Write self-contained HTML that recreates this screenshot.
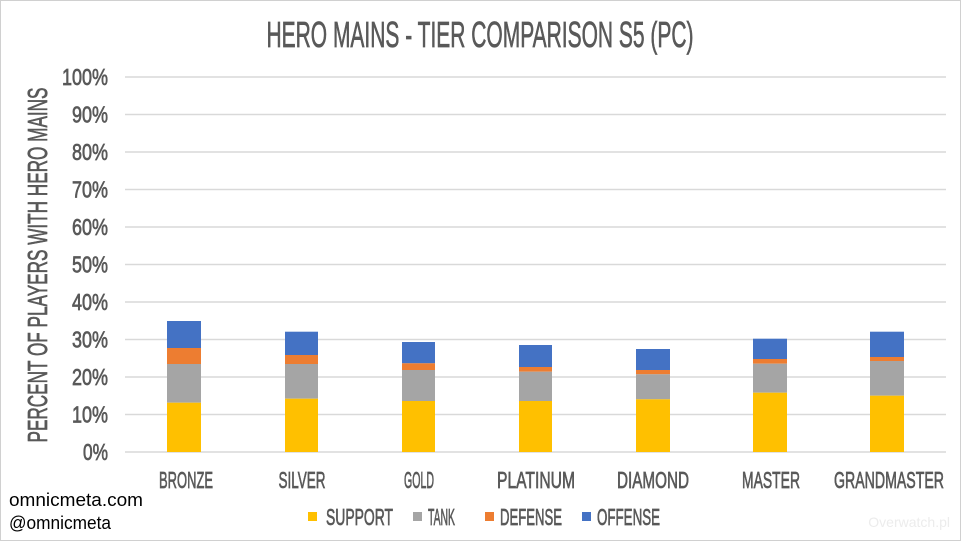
<!DOCTYPE html>
<html><head><meta charset="utf-8"><style>
html,body{margin:0;padding:0;background:#fff;}
svg{display:block;}
text{font-family:"Liberation Sans Narrow","Liberation Sans",sans-serif;fill:#595959;}
.b{stroke:#595959;stroke-width:0.7;}
</style></head><body>
<svg width="961" height="541" viewBox="0 0 961 541" xmlns="http://www.w3.org/2000/svg">
<rect x="0.5" y="0.5" width="960" height="540" fill="#fff" stroke="#d0d0d0"/>
<text class="b" x="480" y="47" font-size="36" text-anchor="middle" textLength="427" lengthAdjust="spacingAndGlyphs">HERO MAINS - TIER COMPARISON S5 (PC)</text>
<g stroke="#d9d9d9" stroke-width="1.5">
<line x1="125" x2="946" y1="77" y2="77"/><line x1="125" x2="946" y1="114.5" y2="114.5"/>
<line x1="125" x2="946" y1="152" y2="152"/><line x1="125" x2="946" y1="189.5" y2="189.5"/>
<line x1="125" x2="946" y1="227" y2="227"/><line x1="125" x2="946" y1="264.5" y2="264.5"/>
<line x1="125" x2="946" y1="302" y2="302"/><line x1="125" x2="946" y1="339.5" y2="339.5"/>
<line x1="125" x2="946" y1="377" y2="377"/><line x1="125" x2="946" y1="414.5" y2="414.5"/>
<line x1="125" x2="946" y1="452" y2="452"/>
</g>
<g font-size="23" text-anchor="end" class="b" lengthAdjust="spacingAndGlyphs">
<text x="108" y="85" textLength="46" lengthAdjust="spacingAndGlyphs">100%</text>
<text x="108" y="122.5" textLength="36" lengthAdjust="spacingAndGlyphs">90%</text>
<text x="108" y="160" textLength="36" lengthAdjust="spacingAndGlyphs">80%</text>
<text x="108" y="197.5" textLength="36" lengthAdjust="spacingAndGlyphs">70%</text>
<text x="108" y="235" textLength="36" lengthAdjust="spacingAndGlyphs">60%</text>
<text x="108" y="272.5" textLength="36" lengthAdjust="spacingAndGlyphs">50%</text>
<text x="108" y="310" textLength="36" lengthAdjust="spacingAndGlyphs">40%</text>
<text x="108" y="347.5" textLength="36" lengthAdjust="spacingAndGlyphs">30%</text>
<text x="108" y="385" textLength="36" lengthAdjust="spacingAndGlyphs">20%</text>
<text x="108" y="422.5" textLength="36" lengthAdjust="spacingAndGlyphs">10%</text>
<text x="108" y="460" textLength="25" lengthAdjust="spacingAndGlyphs">0%</text>
</g>
<text class="b" transform="translate(47,265) rotate(-90)" font-size="28" text-anchor="middle" textLength="355" lengthAdjust="spacingAndGlyphs">PERCENT OF PLAYERS WITH HERO MAINS</text>
<g>
<rect x="167" y="321" width="34" height="27" fill="#4472c4"/><rect x="167" y="348" width="34" height="16" fill="#ed7d31"/><rect x="167" y="364" width="34" height="38.7" fill="#a5a5a5"/><rect x="167" y="402.7" width="34" height="49.3" fill="#ffc000"/>
<rect x="285" y="331.7" width="33" height="23.3" fill="#4472c4"/><rect x="285" y="355" width="33" height="9" fill="#ed7d31"/><rect x="285" y="364" width="33" height="34.7" fill="#a5a5a5"/><rect x="285" y="398.7" width="33" height="53.3" fill="#ffc000"/>
<rect x="402" y="342" width="33" height="21.3" fill="#4472c4"/><rect x="402" y="363.3" width="33" height="6.7" fill="#ed7d31"/><rect x="402" y="370" width="33" height="31" fill="#a5a5a5"/><rect x="402" y="401" width="33" height="51" fill="#ffc000"/>
<rect x="519" y="345" width="33" height="22" fill="#4472c4"/><rect x="519" y="367" width="33" height="4.7" fill="#ed7d31"/><rect x="519" y="371.7" width="33" height="29.3" fill="#a5a5a5"/><rect x="519" y="401" width="33" height="51" fill="#ffc000"/>
<rect x="636" y="349" width="34" height="21" fill="#4472c4"/><rect x="636" y="370" width="34" height="4.3" fill="#ed7d31"/><rect x="636" y="374.3" width="34" height="25" fill="#a5a5a5"/><rect x="636" y="399.3" width="34" height="52.7" fill="#ffc000"/>
<rect x="753" y="338.7" width="34" height="20.3" fill="#4472c4"/><rect x="753" y="359" width="34" height="4.7" fill="#ed7d31"/><rect x="753" y="363.7" width="34" height="29" fill="#a5a5a5"/><rect x="753" y="392.7" width="34" height="59.3" fill="#ffc000"/>
<rect x="870" y="331.7" width="34" height="25.3" fill="#4472c4"/><rect x="870" y="357" width="34" height="4" fill="#ed7d31"/><rect x="870" y="361" width="34" height="34.7" fill="#a5a5a5"/><rect x="870" y="395.7" width="34" height="56.3" fill="#ffc000"/>
</g>
<g font-size="23" text-anchor="middle" class="b">
<text x="186" y="488" textLength="54" lengthAdjust="spacingAndGlyphs">BRONZE</text>
<text x="302" y="488" textLength="47" lengthAdjust="spacingAndGlyphs">SILVER</text>
<text x="419" y="488" textLength="30" lengthAdjust="spacingAndGlyphs">GOLD</text>
<text x="536" y="488" textLength="78" lengthAdjust="spacingAndGlyphs">PLATINUM</text>
<text x="653" y="488" textLength="72" lengthAdjust="spacingAndGlyphs">DIAMOND</text>
<text x="771" y="488" textLength="58" lengthAdjust="spacingAndGlyphs">MASTER</text>
<text x="889" y="488" textLength="110" lengthAdjust="spacingAndGlyphs">GRANDMASTER</text>
</g>
<g font-size="23" class="b">
<rect x="308" y="512" width="9" height="9" fill="#ffc000" stroke="none"/><text x="326" y="525" textLength="67" lengthAdjust="spacingAndGlyphs">SUPPORT</text>
<rect x="413" y="512" width="9" height="9" fill="#a5a5a5" stroke="none"/><text x="428" y="525" textLength="27" lengthAdjust="spacingAndGlyphs">TANK</text>
<rect x="485" y="512" width="9" height="9" fill="#ed7d31" stroke="none"/><text x="500" y="525" textLength="62" lengthAdjust="spacingAndGlyphs">DEFENSE</text>
<rect x="582" y="512" width="9" height="9" fill="#4472c4" stroke="none"/><text x="597" y="525" textLength="63" lengthAdjust="spacingAndGlyphs">OFFENSE</text>
</g>
<text x="9" y="506" font-size="18" textLength="134" lengthAdjust="spacingAndGlyphs" style="fill:#000;font-family:'Liberation Sans',sans-serif">omnicmeta.com</text>
<text x="9" y="529" font-size="18" textLength="102" lengthAdjust="spacingAndGlyphs" style="fill:#000;font-family:'Liberation Sans',sans-serif">@omnicmeta</text>
<text x="950" y="527" font-size="14" text-anchor="end" style="fill:#ececec;font-family:'Liberation Sans',sans-serif">Overwatch.pl</text>
</svg>
</body></html>
